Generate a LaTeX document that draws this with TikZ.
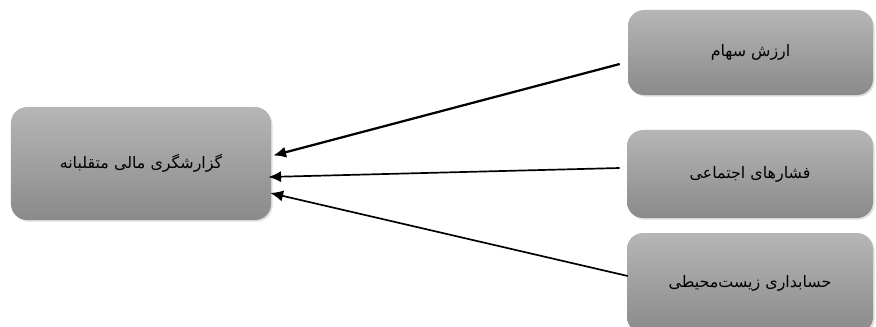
\documentclass[tikz,border=0pt]{standalone}
\usepackage{fontspec}
\newfontfamily\arabicfont[Script=Arabic]{DejaVu Sans}
\TeXXeTstate=1
\usetikzlibrary{arrows.meta,calc,shadows}
\definecolor{boxtop}{RGB}{182,182,182}
\definecolor{boxbot}{RGB}{138,138,138}
\tikzset{
  box/.style={rounded corners=4mm,top color=boxtop,bottom color=boxbot,draw=none,
    drop shadow={opacity=0.25,shadow xshift=0.4mm,shadow yshift=-0.4mm},
    font=\arabicfont\fontsize{11.3}{13}\selectfont},
  arr/.style={-{Latex[length=3.2mm,width=2.8mm]},line width=1.2pt,black}
}
\begin{document}
\begin{tikzpicture}[x=0.25mm,y=0.25mm]
\useasboundingbox (0,0) rectangle (876,326);
\node[box,minimum width=65mm,minimum height=28.25mm] (fraud) at (141,162.5){\beginR گزارشگری مالی متقلبانه\endR};
\node[box,minimum width=61.25mm,minimum height=21.25mm] (stock) at (750.5,273.5){\beginR ارزش سهام\endR};
\node[box,minimum width=61.5mm,minimum height=22mm] (social) at (750,152){\beginR فشارهای اجتماعی\endR};
\node[box,minimum width=61.5mm,minimum height=25mm] (env) at (750,43){\beginR حسابداری زیست‌محیطی\endR};
\draw[arr,line width=1.6pt] ($(stock.west)+(-8,-11.5)$) -- ($(fraud.east)+(2,8)$);
\draw[arr] ($(social.west)+(-7,6)$) -- ($(fraud.east)+(-3,-13.5)$);
\draw[arr] ($(env.west)+(1,7)$) -- ($(fraud.east)+(-1,-29.5)$);
\end{tikzpicture}
\end{document}
